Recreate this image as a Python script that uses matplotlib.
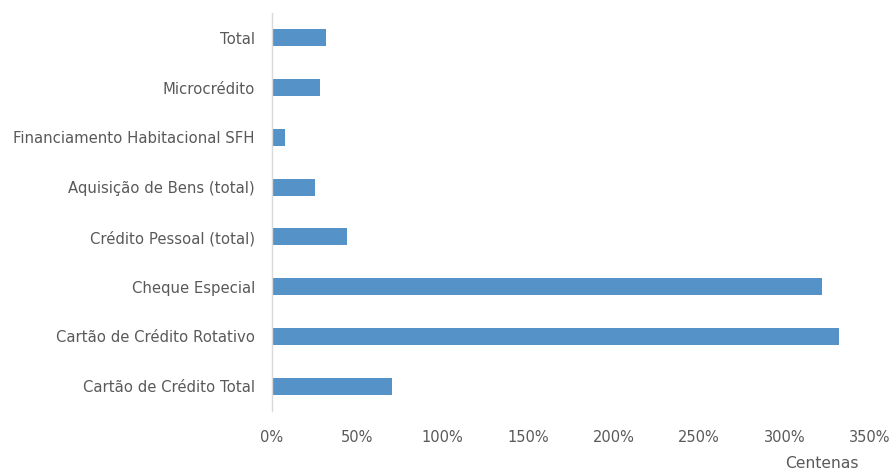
import matplotlib
matplotlib.use("Agg")
import matplotlib.pyplot as plt
from matplotlib.ticker import FuncFormatter

categories = ["Cartão de Crédito Total", "Cartão de Crédito Rotativo", "Cheque Especial",
              "Crédito Pessoal (total)", "Aquisição de Bens (total)",
              "Financiamento Habitacional SFH", "Microcrédito", "Total"]
values = [70.5, 331.7, 322.0, 44.0, 25.3, 7.7, 28.2, 31.9]  # percent
x_ticks = [0, 50, 100, 150, 200, 250, 300, 350]

plt.rcParams['font.family'] = ['DejaVu Sans']
fig = plt.figure(figsize=(8.93, 4.70), dpi=100)
W, H = 893, 470
ax = fig.add_axes([271.5 / W, (H - 411) / H, (870 - 271.5) / W, (411 - 13) / H])

ax.barh(range(len(categories)), values, height=0.34, color='#5592C8')
ax.set_xlim(0, 350)
ax.set_ylim(-0.5, len(categories) - 0.5)
ax.set_yticks(range(len(categories)))
ax.set_yticklabels(categories)
ax.set_xticks(x_ticks)
ax.xaxis.set_major_formatter(FuncFormatter(lambda v, p: f"{int(v)}%"))

for s in ['top', 'right', 'bottom']:
    ax.spines[s].set_visible(False)
ax.spines['left'].set_color('#D9D9D9')
ax.spines['left'].set_linewidth(1.0)
ax.tick_params(axis='both', length=0, colors='#595959')
ax.tick_params(axis='y', pad=12, labelsize=10.7)
ax.tick_params(axis='x', pad=14, labelsize=10.5)

fig.text(822 / W, 1 - 463 / H, "Centenas", ha='center', va='center', color='#595959', fontsize=11.2)

fig.savefig("out.png", dpi=100)
